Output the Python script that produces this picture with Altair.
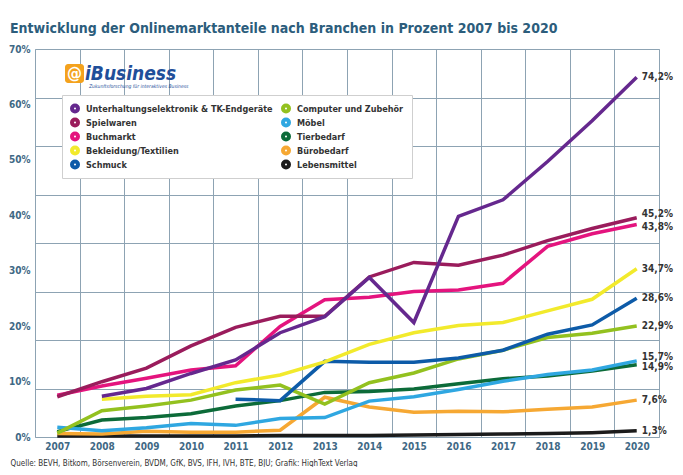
import altair as alt
import pandas as pd

FONT = "DejaVu Sans Condensed, Liberation Sans Narrow, Roboto, sans-serif"

years = list(range(2007, 2021))

categories = [
    "Unterhaltungselektronik & TK-Endgeräte",
    "Spielwaren",
    "Buchmarkt",
    "Bekleidung/Textilien",
    "Schmuck",
    "Computer und Zubehör",
    "Möbel",
    "Tierbedarf",
    "Bürobedarf",
    "Lebensmittel",
]
colors = ["#65288e", "#9a1c5c", "#e4147e", "#f2ea2c", "#0d5ba8",
          "#93c11f", "#2fa7e1", "#0c6b39", "#f6a833", "#1b1b1b"]

unterhaltung = [None, 8.4, 10.0, 13.1, 15.9, 21.5, 24.8, 32.9, 23.6, 45.5, 48.9, 56.8, 65.2, 74.2]
spielwaren = [8.3, 11.4, 14.2, 18.8, 22.6, 24.9, 24.9, 33.0, 36.0, 35.4, 37.5, 40.5, 43.0, 45.2]
buchmarkt = [8.6, 10.5, 12.1, 13.8, 14.7, 22.8, 28.3, 28.8, 30.0, 30.3, 31.7, 39.3, 41.9, 43.8]
bekleidung = [None, 7.8, 8.4, 8.7, 11.2, 12.8, 15.5, 19.1, 21.5, 23.0, 23.6, 26.0, 28.4, 34.7]
schmuck = [None, None, None, None, 7.8, 7.5, 15.6, 15.4, 15.4, 16.3, 17.9, 21.2, 23.1, 28.6]
computer = [0.8, 5.4, 6.4, 7.6, 9.7, 10.7, 6.8, 11.2, 13.2, 16.1, 17.9, 20.5, 21.4, 22.9]
moebel = [2.0, 1.3, 1.9, 2.8, 2.4, 3.8, 4.0, 7.4, 8.3, 9.8, 11.5, 12.9, 13.8, 15.7]
tierbedarf = [1.1, 3.5, 4.0, 4.8, 6.4, 7.5, 9.2, 9.4, 9.9, 11.0, 12.0, 12.6, 13.6, 14.9]
buerobedarf = [0.7, 0.6, 1.2, 1.0, 1.0, 1.4, 8.2, 6.2, 5.1, 5.3, 5.2, 5.7, 6.2, 7.6]
lebensmittel = [0.2, 0.2, 0.2, 0.2, 0.2, 0.3, 0.3, 0.3, 0.4, 0.5, 0.6, 0.7, 0.9, 1.3]

series = [unterhaltung, spielwaren, buchmarkt, bekleidung, schmuck,
          computer, moebel, tierbedarf, buerobedarf, lebensmittel]

y_grid_values = list(range(0, 81, 10))
y_label_values = list(range(0, 71, 10))

title_text = "Entwicklung der Onlinemarktanteile nach Branchen in Prozent 2007 bis 2020"
source_text = "Quelle: BEVH, Bitkom, Börsenverein, BVDM, GfK, BVS, IFH, IVH, BTE, BJU; Grafik: HighText Verlag"

# ---- build tables ----
rows = []
# draw order: last category first so Unterhaltungselektronik ends on top
for cat, vals in reversed(list(zip(categories, series))):
    for yr, v in zip(years, vals):
        if v is not None:
            rows.append({"kategorie": cat, "jahr": yr, "wert": v})
df = pd.DataFrame(rows)

end_rows = []
for cat, vals in zip(categories, series):
    v = vals[-1]
    end_rows.append({"kategorie": cat, "jahr": years[-1], "wert": v,
                     "label": f"{v:.1f}".replace(".", ",") + "%"})
end_df = pd.DataFrame(end_rows)

# table that only carries the tick labels of the (0-70 %) label axis
label_axis_df = pd.DataFrame({"jahr": [years[0]] * len(y_label_values),
                              "wert": y_label_values})

GRID = "#8da3b3"
AXIS_TXT = "#3f6985"

xscale = alt.Scale(domain=[years[0] - 0.5, years[-1] + 0.5], nice=False, zero=False)

x_main = alt.X(
    "jahr:Q", scale=xscale,
    axis=alt.Axis(values=years, format="d", grid=False, ticks=False, domain=False,
                  labelFlush=False, labelFont=FONT, labelFontSize=10, labelFontWeight="bold",
                  labelColor=AXIS_TXT, labelPadding=4,
                  title=source_text, titleX=-25, titleY=26, titleAlign="left",
                  titleAnchor="start", titleBaseline="middle", titleFont=FONT,
                  titleFontSize=8, titleFontWeight="normal", titleColor="#333333"),
)
y_main = alt.Y(
    "wert:Q", scale=alt.Scale(domain=[0, 80], nice=False),
    axis=alt.Axis(values=y_grid_values, grid=True, labels=False, ticks=False,
                  domain=False, title=None),
)

color = alt.Color(
    "kategorie:N",
    scale=alt.Scale(domain=categories, range=colors),
    legend=alt.Legend(
        title=None, orient="none", legendX=27, legendY=46, columns=2,
        symbolType="circle", symbolSize=16, symbolStrokeWidth=6, symbolOpacity=1,
        labelFont=FONT, labelFontSize=9, labelFontWeight="bold", labelColor="#333333",
        labelLimit=300, rowPadding=3, columnPadding=8, padding=8, clipHeight=11,
        labelOffset=6, fillColor="white", strokeColor="#cfcfcf",
    ),
)

lines = alt.Chart(df).mark_line(strokeWidth=3.5).encode(
    x=x_main, y=y_main, color=color, detail="kategorie:N"
)

def end_labels(cats, dy):
    return alt.Chart(end_df).transform_filter(
        alt.FieldOneOfPredicate(field="kategorie", oneOf=cats)
    ).mark_text(align="left", baseline="middle", dx=5, dy=dy, font=FONT,
                fontSize=10, fontWeight="bold", color="#333333").encode(
        x="jahr:Q", y="wert:Q", text="label:N"
    )

upper = ["Spielwaren", "Möbel"]
lower = ["Buchmarkt", "Tierbedarf"]
others = [c for c in categories if c not in upper + lower]
labels_layer = end_labels(others, 0) + end_labels(upper, -4) + end_labels(lower, 2)

logo_df = pd.DataFrame({"t": ["iBusiness"]})
logo_box = alt.Chart(logo_df).mark_rect(color="#f4a21d", cornerRadius=3).encode(
    x=alt.value(30), x2=alt.value(49), y=alt.value(15), y2=alt.value(34)
)
logo_at = alt.Chart(logo_df).mark_text(text="@", font="DejaVu Sans", fontSize=15,
                                        fontWeight="bold", color="white").encode(
    x=alt.value(39.5), y=alt.value(25)
)
logo_name = alt.Chart(logo_df).mark_text(text="iBusiness", font=FONT, fontSize=19,
                                          fontWeight="bold", fontStyle="italic",
                                          color="#1f4f9a", align="left",
                                          baseline="alphabetic").encode(
    x=alt.value(50), y=alt.value(31)
)
logo_tag = alt.Chart(logo_df).mark_text(text="Zukunftsforschung für interaktives Business",
                                         font=FONT, fontSize=5, fontStyle="italic",
                                         color="#1f4f9a", align="left",
                                         baseline="alphabetic").encode(
    x=alt.value(54), y=alt.value(39)
)

main = alt.layer(lines, labels_layer, logo_box, logo_at, logo_name, logo_tag)

secondary = alt.Chart(label_axis_df).mark_point(opacity=0).encode(
    x=alt.X("jahr:Q", scale=xscale,
            axis=alt.Axis(orient="bottom", values=[y + 0.5 for y in years[:-1]], grid=True,
                          labels=False, ticks=False, domain=False, title=None)),
    y=alt.Y("wert:Q", scale=alt.Scale(domain=[0, 70], nice=False),
            axis=alt.Axis(orient="left", values=y_label_values, labelExpr="datum.value + '%'",
                          grid=False, ticks=False, domain=False, title=None,
                          labelFont=FONT, labelFontSize=10, labelFontWeight="bold",
                          labelColor=AXIS_TXT, labelPadding=5)),
)

chart = alt.layer(main, secondary).resolve_scale(
    x="independent", y="independent"
).properties(
    width=624, height=388,
    autosize=alt.AutoSizeParams(type="none"),
    padding={"left": 27, "top": 41, "right": 16, "bottom": 30},
    title=alt.TitleParams(text=title_text, anchor="start", frame="group", font=FONT,
                          fontSize=14, fontWeight="bold", color="#2c5d7c",
                          offset=14, dx=-25, dy=6),
).configure_view(
    stroke=GRID, strokeWidth=1
).configure_axis(
    gridColor=GRID, gridWidth=1, gridOpacity=1
)

chart.save("out.html", embed_options={"renderer": "svg", "actions": False})
